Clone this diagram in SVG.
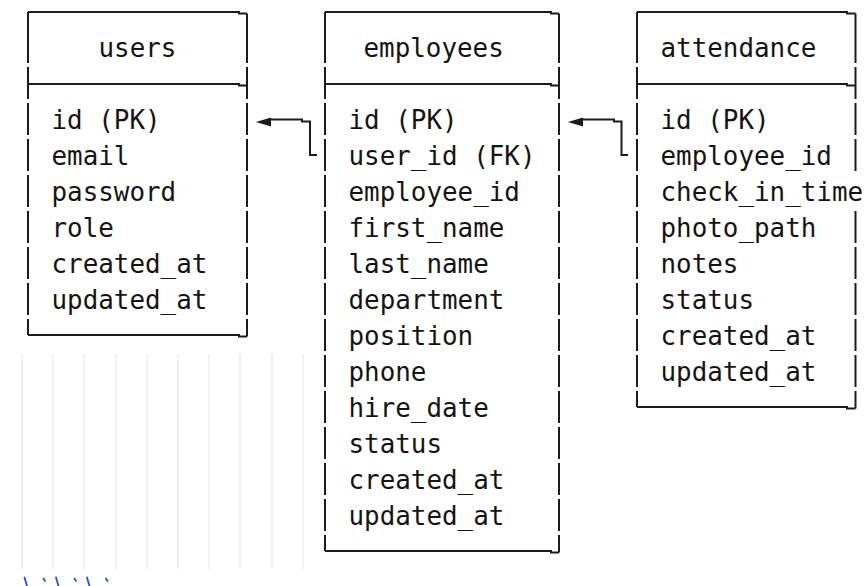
<svg xmlns="http://www.w3.org/2000/svg" width="864" height="586" viewBox="0 0 864 586">
<style>
  .bg { fill: #ffffff; }
  .grid line { stroke: #ececf4; stroke-width: 1.5; }
  .blue line { stroke: #2d50d8; stroke-width: 1.8; stroke-linecap: round; }
  .frame { fill: none; stroke: #1c1c1c; stroke-width: 2; stroke-linejoin: miter; }
  .t { font-family: "DejaVu Sans Mono", "Liberation Mono", monospace; font-size: 25.9px; fill: #141414; }
  .conn { fill: none; stroke: #1c1c1c; stroke-width: 2; }
  .head { fill: #1c1c1c; }
</style>
<rect class="bg" x="0" y="0" width="864" height="586"/>

<g class="grid">
  <line x1="22" y1="354" x2="22" y2="569"/>
  <line x1="53" y1="354" x2="53" y2="569"/>
  <line x1="84" y1="354" x2="84" y2="569"/>
  <line x1="116" y1="354" x2="116" y2="569"/>
  <line x1="147" y1="354" x2="147" y2="569"/>
  <line x1="178" y1="354" x2="178" y2="569"/>
  <line x1="209" y1="354" x2="209" y2="569"/>
  <line x1="240" y1="354" x2="240" y2="569"/>
  <line x1="272" y1="354" x2="272" y2="569"/>
  <line x1="303" y1="354" x2="303" y2="569"/>
</g>
<g class="blue">
  <line x1="24.5" y1="577.5" x2="27" y2="586"/>
  <line x1="43.5" y1="578.5" x2="45" y2="581"/>
  <line x1="56" y1="577.5" x2="58.5" y2="586"/>
  <line x1="74.5" y1="578.5" x2="76" y2="581"/>
  <line x1="87" y1="577.5" x2="89.5" y2="586"/>
  <line x1="106" y1="578.5" x2="107.5" y2="581"/>
</g>

<g id="users">
  <path class="frame" d="M28,12 H239 V13.5 H247 M28,84 H239 V85.5 H247 M28,335 H239 V336.5 H247"/>
  <path class="frame" d="M28,12 V63 M28,67 V99 M28,103 V135 M28,139 V171 M28,175 V207 M28,211 V243 M28,247 V279 M28,283 V315 M28,319 V335"/>
  <path class="frame" d="M247,13.5 V63 M247,67 V99 M247,103 V135 M247,139 V171 M247,175 V207 M247,211 V243 M247,247 V279 M247,283 V315 M247,319 V336.5"/>
  <text class="t" x="98.5" y="57">users</text>
  <text class="t" x="51.5" y="129">id (PK)</text>
  <text class="t" x="51.5" y="165">email</text>
  <text class="t" x="51.5" y="201">password</text>
  <text class="t" x="51.5" y="237">role</text>
  <text class="t" x="51.5" y="273">created_at</text>
  <text class="t" x="51.5" y="309">updated_at</text>
</g>

<g id="employees">
  <path class="frame" d="M325,12 H551 V13.5 H559 M325,84 H551 V85.5 H559 M325,551 H551 V552.5 H559"/>
  <path class="frame" d="M325,12 V63 M325,67 V99 M325,103 V135 M325,139 V171 M325,175 V207 M325,211 V243 M325,247 V279 M325,283 V315 M325,319 V351 M325,355 V387 M325,391 V423 M325,427 V459 M325,463 V495 M325,499 V531 M325,535 V551"/>
  <path class="frame" d="M559,13.5 V63 M559,67 V99 M559,103 V135 M559,139 V171 M559,175 V207 M559,211 V243 M559,247 V279 M559,283 V315 M559,319 V351 M559,355 V387 M559,391 V423 M559,427 V459 M559,463 V495 M559,499 V531 M559,535 V552.5"/>
  <text class="t" x="363.5" y="57">employees</text>
  <text class="t" x="348.5" y="129">id (PK)</text>
  <text class="t" x="348.5" y="165">user_id (FK)</text>
  <text class="t" x="348.5" y="201">employee_id</text>
  <text class="t" x="348.5" y="237">first_name</text>
  <text class="t" x="348.5" y="273">last_name</text>
  <text class="t" x="348.5" y="309">department</text>
  <text class="t" x="348.5" y="345">position</text>
  <text class="t" x="348.5" y="381">phone</text>
  <text class="t" x="348.5" y="417">hire_date</text>
  <text class="t" x="348.5" y="453">status</text>
  <text class="t" x="348.5" y="489">created_at</text>
  <text class="t" x="348.5" y="525">updated_at</text>
</g>

<g id="attendance">
  <path class="frame" d="M637,12 H847 V13.5 H855.5 M637,84 H847 V85.5 H855.5 M637,407 H847 V408.5 H855.5"/>
  <path class="frame" d="M637,12 V63 M637,67 V99 M637,103 V135 M637,139 V171 M637,175 V207 M637,211 V243 M637,247 V279 M637,283 V315 M637,319 V351 M637,355 V387 M637,391 V407"/>
  <path class="frame" d="M855.5,13.5 V63 M855.5,67 V99 M855.5,103 V135 M855.5,139 V171 M855.5,211 V243 M855.5,247 V279 M855.5,283 V315 M855.5,319 V351 M855.5,355 V387 M855.5,391 V408.5"/>
  <text class="t" x="660.5" y="57">attendance</text>
  <text class="t" x="660.5" y="129">id (PK)</text>
  <text class="t" x="660.5" y="165">employee_id</text>
  <text class="t" x="660.5" y="201">check_in_time</text>
  <text class="t" x="660.5" y="237">photo_path</text>
  <text class="t" x="660.5" y="273">notes</text>
  <text class="t" x="660.5" y="309">status</text>
  <text class="t" x="660.5" y="345">created_at</text>
  <text class="t" x="660.5" y="381">updated_at</text>
</g>

<g id="connectors">
  <path class="conn" d="M317,155 H310 V121.5 H302 V119.5 H268"/>
  <polygon class="head" points="256,122 271,117.5 271,126.5"/>
  <path class="conn" d="M628,155 H621.5 V121.5 H614 V119.5 H580"/>
  <polygon class="head" points="568,122 583,117.5 583,126.5"/>
</g>
</svg>
